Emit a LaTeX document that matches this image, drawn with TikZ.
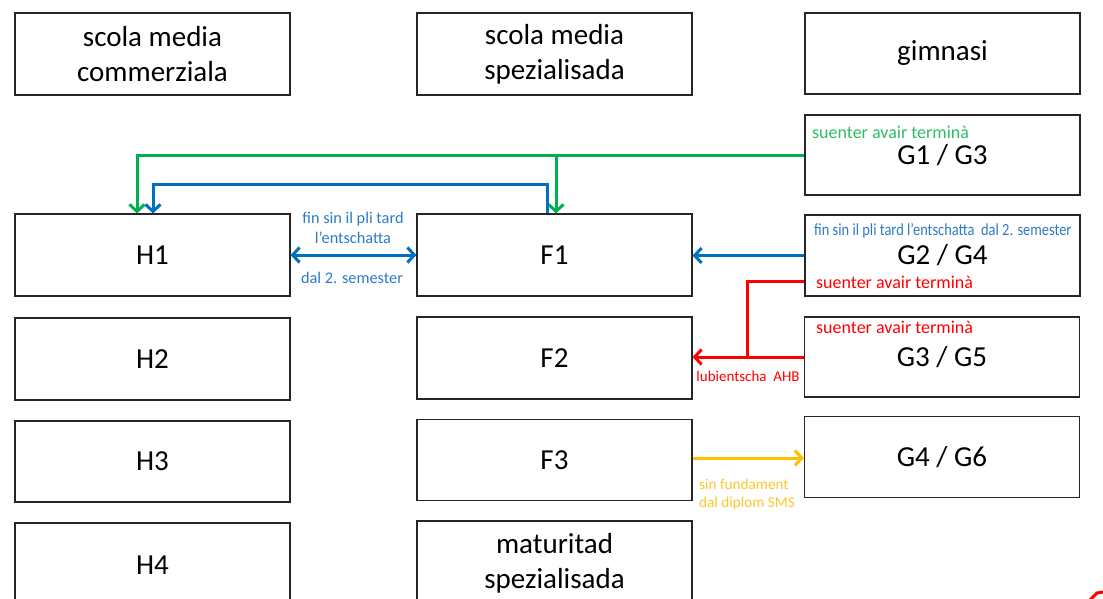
\documentclass[tikz,border=0pt]{standalone}
\usepackage{fontspec}
\setmainfont{Carlito}
\usetikzlibrary{arrows.meta,calc}
\definecolor{cgreen}{HTML}{00B050}
\definecolor{cgreentxt}{HTML}{2DBE63}
\definecolor{cblue}{HTML}{0070C0}
\definecolor{cbluetxt}{HTML}{2E7BC8}
\definecolor{cred}{HTML}{FF0000}
\definecolor{cyellow}{HTML}{FFC000}
\definecolor{cyellowtxt}{HTML}{FFC72C}
\definecolor{cborder}{HTML}{262626}
\tikzset{
  box/.style={draw=cborder, line width=1.1pt, minimum width=275pt, minimum height=82pt,
    inner sep=0pt, align=center, font=\fontsize{29}{35}\selectfont},
  conn/.style={line width=3pt},
  tip/.style={-{Straight Barb[length=7pt,width=15pt,line width=3pt]}},
  biptip/.style={{Straight Barb[length=7pt,width=15pt,line width=3pt]}-{Straight Barb[length=7pt,width=15pt,line width=3pt]}},
  lbl/.style={inner sep=0pt, font=\fontsize{18}{21}\selectfont},
  slbl/.style={inner sep=0pt, font=\fontsize{16.3}{20}\selectfont, align=center},
}
\begin{document}
\begin{tikzpicture}[x=1pt,y=-1pt]
\fill[white] (0,0) rectangle (1103,598);
\useasboundingbox (0,0) rectangle (1103,598);
\clip (0,0) rectangle (1103,598);

% column 1
\node[box] (scm) at (152.5,54) {scola media\\commerziala};
\node[box] (h1) at (152.5,255) {H1};
\node[box] (h2) at (152.5,359) {H2};
\node[box, minimum height=81pt] (h3) at (152.5,461.5) {H3};
\node[box, minimum height=84pt] (h4) at (152.5,565) {H4};
% column 2
\node[box] (sms) at (554.5,54) {scola media\\spezialisada};
\node[box] (f1) at (554.5,255) {F1};
\node[box] (f2) at (554.5,358) {F2};
\node[box, minimum height=81pt] (f3) at (554.5,460) {F3};
\node[box, minimum height=84pt] (mat) at (554.5,563) {maturitad\\spezialisada};
% column 3
\node[box, minimum height=81pt] (gim) at (942.5,53.5) {gimnasi};
\node[box, minimum height=80pt] (g13) at (942.5,155) {G1 / G3};
\node[box, minimum height=81pt] (g24) at (942.5,255.5) {G2 / G4};
\node[box, minimum height=80pt] (g35) at (942,357) {G3 / G5};
\node[box, minimum height=81pt] (g46) at (942,457) {G4 / G6};

% labels inside G boxes
\node[lbl, text=cgreentxt, anchor=west] (lg13) at (812,132) {suenter avair terminà};
\node[lbl, text=cbluetxt, anchor=west] (lg24b) at (814,231)
  {\fontsize{17}{20}\selectfont\scalebox{0.85}[1]{fin sin il pli tard l’entschatta\ \ dal 2. semester}};
\node[lbl, text=cred, anchor=west] (lg24r) at (816,282) {suenter avair terminà};
\node[lbl, text=cred, anchor=west] (lg35) at (816,327) {suenter avair terminà};

% green connector
\draw[conn, cgreen, tip] (g13.west) -| ([xshift=-15.5pt]h1.north);
\draw[conn, cgreen, tip] ([xshift=1.5pt]f1.north |- g13.west) -- ([xshift=1.5pt]f1.north);

% blue connector F1 -> H1 over the top
\draw[conn, cblue, tip] ([xshift=-7.5pt]f1.north) -- ++(0,-29) -| ([xshift=0.5pt]h1.north);

% blue double arrow H1 <-> F1
\draw[conn, cblue, biptip] (h1.east) -- (f1.west);
\node[slbl, text=cbluetxt] (lhf1) at (353,228) {fin sin il pli tard\\l’entschatta};
\node[slbl, text=cbluetxt] (lhf2) at (352,278) {dal 2. semester};

% blue G2/G4 -> F1
\draw[conn, cblue, tip] (g24.west) -- (g24.west -| f1.east);

% red connectors
\coordinate (rj) at (747,357);
\draw[conn, cred] ([yshift=-25.5pt]g24.west) -| (rj);
\draw[conn, cred, tip] (g35.west) -- (g35.west -| f2.east);
\node[inner sep=0pt, text=cred, font=\fontsize{15}{18}\selectfont] (lahb) at (748,376) {lubientscha\ \ AHB};

% yellow F3 -> G4/G6
\draw[conn, cyellow, tip] ([yshift=2pt]f3.east) -- ([yshift=2pt]f3.east -| g46.west);
\node[inner sep=0pt, text=cyellowtxt, anchor=west, align=left, font=\fontsize{15.2}{18}\selectfont] (lsms) at (699,494) {sin fundament\\dal diplom SMS};

% red fragment at the lower right corner
\coordinate (frag) at (1103,592);
\draw[conn, cred] (1089,601) -- (1097,593) -- (frag);
\end{tikzpicture}
\end{document}
